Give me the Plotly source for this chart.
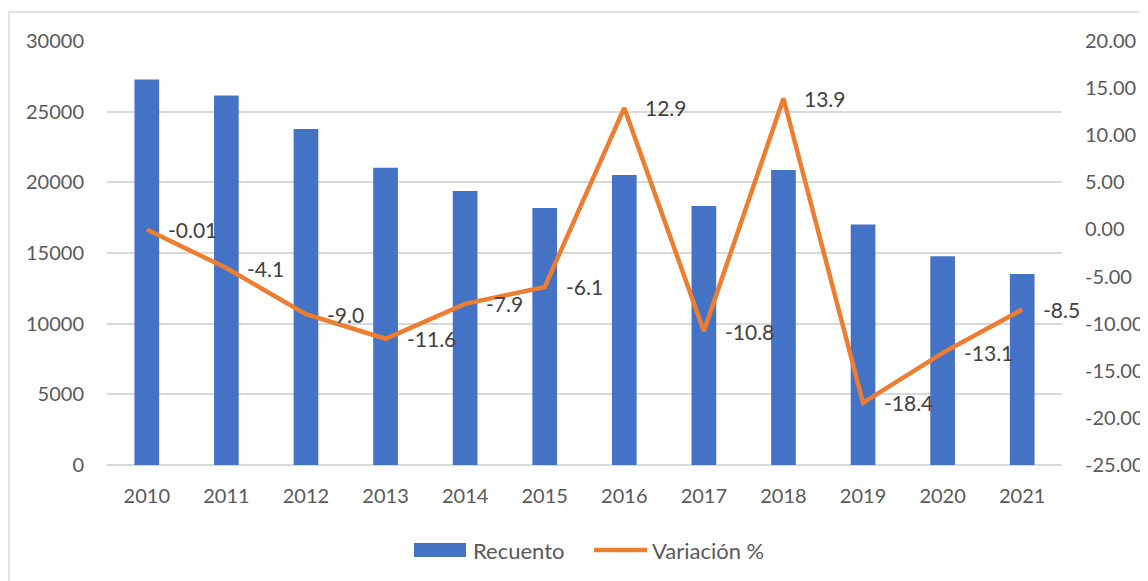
import plotly.graph_objects as go

# datos
years = ["2010", "2011", "2012", "2013", "2014", "2015",
         "2016", "2017", "2018", "2019", "2020", "2021"]
recuento = [27280, 26140, 23780, 21040, 19380, 18180,
            20520, 18320, 20870, 17020, 14770, 13520]
variacion = [-0.01, -4.1, -9.0, -11.6, -7.9, -6.1,
             12.9, -10.8, 13.9, -18.4, -13.1, -8.5]
var_labels = ["-0.01", "-4.1", "-9.0", "-11.6", "-7.9", "-6.1",
              "12.9", "-10.8", "13.9", "-18.4", "-13.1", "-8.5"]
y2_ticks = [-25, -20, -15, -10, -5, 0, 5, 10, 15, 20]

FONT = "Lato"
BLUE = "#4472C4"
ORANGE = "#ED7D31"
# la página html tiene 8px de margen en el body
W, H = 1140, 573
L, R, T, B = 99, 86, 33, 116
pw = W - L - R
ph = H - T - B


def px_x(x):
    # pixel de la figura -> coordenada paper
    return (x - L) / pw


def px_y(y):
    return (H - B - y) / ph


fig = go.Figure()
fig.add_trace(go.Bar(
    x=years, y=recuento, name="Recuento",
    marker=dict(color=BLUE, line=dict(width=0)),
))
fig.add_trace(go.Scatter(
    x=years, y=variacion, name="Variación %", yaxis="y2",
    mode="lines", line=dict(color=ORANGE, width=4.5),
))

# etiquetas de la serie de variación (a la derecha de cada punto)
# en eje de categorías se usa el índice, "2010" se leería como posición 2010
for i, (v, lab) in enumerate(zip(variacion, var_labels)):
    fig.add_annotation(
        x=i, y=v, yref="y2", text=lab, showarrow=False,
        xanchor="left", yanchor="middle", xshift=19,
        font=dict(family=FONT, size=21, color="#404040"),
    )

# marco exterior del gráfico
fig.add_shape(
    type="rect", xref="paper", yref="paper",
    x0=px_x(1), x1=px_x(W + 5), y0=px_y(H + 5), y1=px_y(4),
    line=dict(color="#D9D9D9", width=1.5), layer="below",
)

# leyenda a mano (estilo Excel: rectángulo ancho para las barras)
ly = px_y(542)
fig.add_shape(type="rect", xref="paper", yref="paper",
              x0=px_x(406), x1=px_x(458), y0=px_y(549), y1=px_y(535),
              fillcolor=BLUE, line=dict(width=0))
fig.add_annotation(xref="paper", yref="paper", x=px_x(463), y=ly,
                   text="Recuento", showarrow=False,
                   xanchor="left", yanchor="middle",
                   font=dict(family=FONT, size=22, color="#595959"))
fig.add_shape(type="line", xref="paper", yref="paper",
              x0=px_x(586), x1=px_x(639), y0=ly, y1=ly,
              line=dict(color=ORANGE, width=4.5))
fig.add_annotation(xref="paper", yref="paper", x=px_x(642), y=ly,
                   text="Variación %", showarrow=False,
                   xanchor="left", yanchor="middle",
                   font=dict(family=FONT, size=22, color="#595959"))

fig.update_layout(
    width=W, height=H,
    margin=dict(l=L, r=R, t=T, b=B, autoexpand=False),
    plot_bgcolor="white", paper_bgcolor="white",
    font=dict(family=FONT, size=20, color="#595959"),
    bargap=0.69,
    showlegend=False,
    xaxis=dict(
        type="category", range=[-0.5, len(years) - 0.5],
        showgrid=False, showline=False, ticks="",
        ticklabelstandoff=17,
    ),
    yaxis=dict(
        range=[0, 30000], dtick=5000, tickformat="d",
        showgrid=True, gridcolor="#D9D9D9", gridwidth=1.5,
        zeroline=True, zerolinecolor="#D9D9D9", zerolinewidth=1.5,
        showline=False, ticks="", ticklabelstandoff=22,
    ),
    yaxis2=dict(
        overlaying="y", side="right",
        range=[-25, 20],
        tickvals=y2_ticks,
        ticktext=[f"{t:.2f}" for t in y2_ticks],
        showgrid=False, zeroline=False, showline=False,
        ticks="", ticklabelstandoff=22,
    ),
)

fig.write_html("out.html")
